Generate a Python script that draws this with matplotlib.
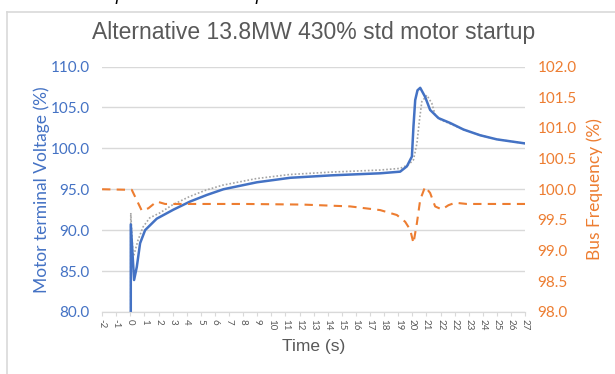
import matplotlib
matplotlib.use("Agg")
import matplotlib.pyplot as plt
from matplotlib.lines import Line2D
import numpy as np

title = "Alternative 13.8MW 430% std motor startup"

# time axis labels (Excel category labels, 22 appears twice)
tick_labels = ["-2", "-1"] + [str(i) for i in range(0, 23)] + ["22", "23", "24", "25", "26", "27"]

# motor terminal voltage (%), measured
t_volt = [0, 0.0, 0.23, 0.42, 0.65, 1.0, 1.81, 2.97, 4.14, 5.30, 6.46, 8.79, 11.11,
          14.0, 17.39, 18.78, 19.25, 19.60, 19.71, 19.83, 19.99, 20.18, 20.52,
          20.87, 21.45, 22.27, 23.20, 24.36, 25.52, 27.5]
volt = [80.0, 90.7, 83.9, 85.5, 88.4, 90.0, 91.4, 92.5, 93.5, 94.3, 95.0, 95.85, 96.4,
        96.7, 96.95, 97.15, 97.8, 99.0, 102.7, 105.9, 107.1, 107.4, 106.3,
        104.7, 103.7, 103.1, 102.3, 101.6, 101.1, 100.6]

# motor terminal voltage (%), simulated
t_sim = [0, 0.0, 0.16, 0.51, 0.86, 1.32, 2.02, 2.92, 4.09, 5.25, 6.41, 8.74, 11.06,
         14.0, 17.39, 18.78, 19.36, 19.71, 19.95, 20.13, 20.29, 20.64, 20.99,
         21.22, 21.6, 22.27, 23.20, 24.36, 25.52, 27.5]
sim = [80.0, 92.1, 86.6, 88.8, 90.4, 91.5, 92.1, 93.1, 94.1, 94.9, 95.5, 96.3, 96.8,
       97.1, 97.35, 97.55, 98.0, 98.6, 100.6, 103.5, 105.7, 106.5, 105.5,
       104.1, 103.5, 103.0, 102.3, 101.6, 101.1, 100.6]

# bus frequency (%)
t_freq = [-2, 0.07, 0.77, 1.23, 1.81, 2.39, 3.21, 8.0, 12.0, 15.3, 17.39, 18.55,
          19.13, 19.48, 19.71, 19.95, 20.18, 20.52, 20.87, 21.22, 21.69, 22.15,
          22.62, 23.43, 27.5]
freq = [100.0, 99.99, 99.65, 99.69, 99.80, 99.76, 99.76, 99.76, 99.75, 99.72, 99.66,
        99.58, 99.47, 99.34, 99.12, 99.45, 99.83, 100.04, 99.94, 99.72, 99.67,
        99.74, 99.78, 99.76, 99.76]

blue = "#4472C4"
orange = "#ED7D31"
grey_txt = "#595959"

fig = plt.figure(figsize=(6.15, 3.74), dpi=100)
ax = fig.add_axes([0.166, 0.166, 0.688, 0.656])
ax2 = ax.twinx()

ax.plot(t_sim, sim, color="#A5A5A5", linestyle=(0, (1, 1.2)), lw=1.2, zorder=3)
ax.plot(t_volt, volt, color=blue, lw=1.8, zorder=4)
ax2.plot(t_freq, freq, color=orange, lw=1.5, linestyle=(0, (4, 3)))

ax.set_xlim(-2, 27.5)
ax.set_ylim(80, 110)
ax2.set_ylim(98, 102)
ax.set_yticks(np.arange(80, 111, 5))
ax2.set_yticks(np.arange(98, 102.01, 0.5))
ax.set_yticklabels([f"{v:.1f}" for v in np.arange(80, 111, 5)])
ax2.set_yticklabels([f"{v:.1f}" for v in np.arange(98, 102.01, 0.5)])

ticks = np.linspace(-2, 27.5, len(tick_labels))
ax.set_xticks(ticks)
ax.set_xticklabels(tick_labels, rotation=270, fontsize=7, color=grey_txt,
                   family="Lato")

ax.grid(axis="y", color="#D9D9D9", lw=1)
ax.set_axisbelow(True)
for a in (ax, ax2):
    for s in ("top", "left", "right"):
        a.spines[s].set_visible(False)
    a.spines["bottom"].set_color("#D9D9D9")
ax.tick_params(axis="y", length=0, labelsize=11, labelcolor=blue, pad=9)
ax2.tick_params(axis="y", length=0, labelsize=11, labelcolor=orange, pad=9)
ax.tick_params(axis="x", length=3, color="#D9D9D9", pad=2)
for lab in ax.get_yticklabels() + ax2.get_yticklabels():
    lab.set_family("Lato")

ax.set_ylabel("Motor terminal Voltage (%)", color=blue, fontsize=12.5,
              family="Lato", labelpad=0)
ax2.set_ylabel("Bus Frequency (%)", color=orange, fontsize=12.5,
               family="Lato", labelpad=7)
ax.set_xlabel("Time (s)", color=grey_txt, fontsize=12.5,
              family="Liberation Sans", labelpad=6)

fig.text(0.51, 0.912, title, ha="center", va="center", fontsize=16.5,
         color=grey_txt, family="Liberation Sans")

# cut-off heading above the chart and the chart frame
fig.text(0.005, 1.012, "3.    Electrical performance comparison", ha="left",
         va="center", fontsize=13, style="italic", family="Liberation Sans")
fig.add_artist(Line2D([0.012, 0.012], [0, 0.968], color="#D9D9D9", lw=1.2,
                      transform=fig.transFigure))
fig.add_artist(Line2D([0.012, 1.0], [0.968, 0.968], color="#D9D9D9", lw=1.2,
                      transform=fig.transFigure))

fig.savefig("out.png", dpi=100)
